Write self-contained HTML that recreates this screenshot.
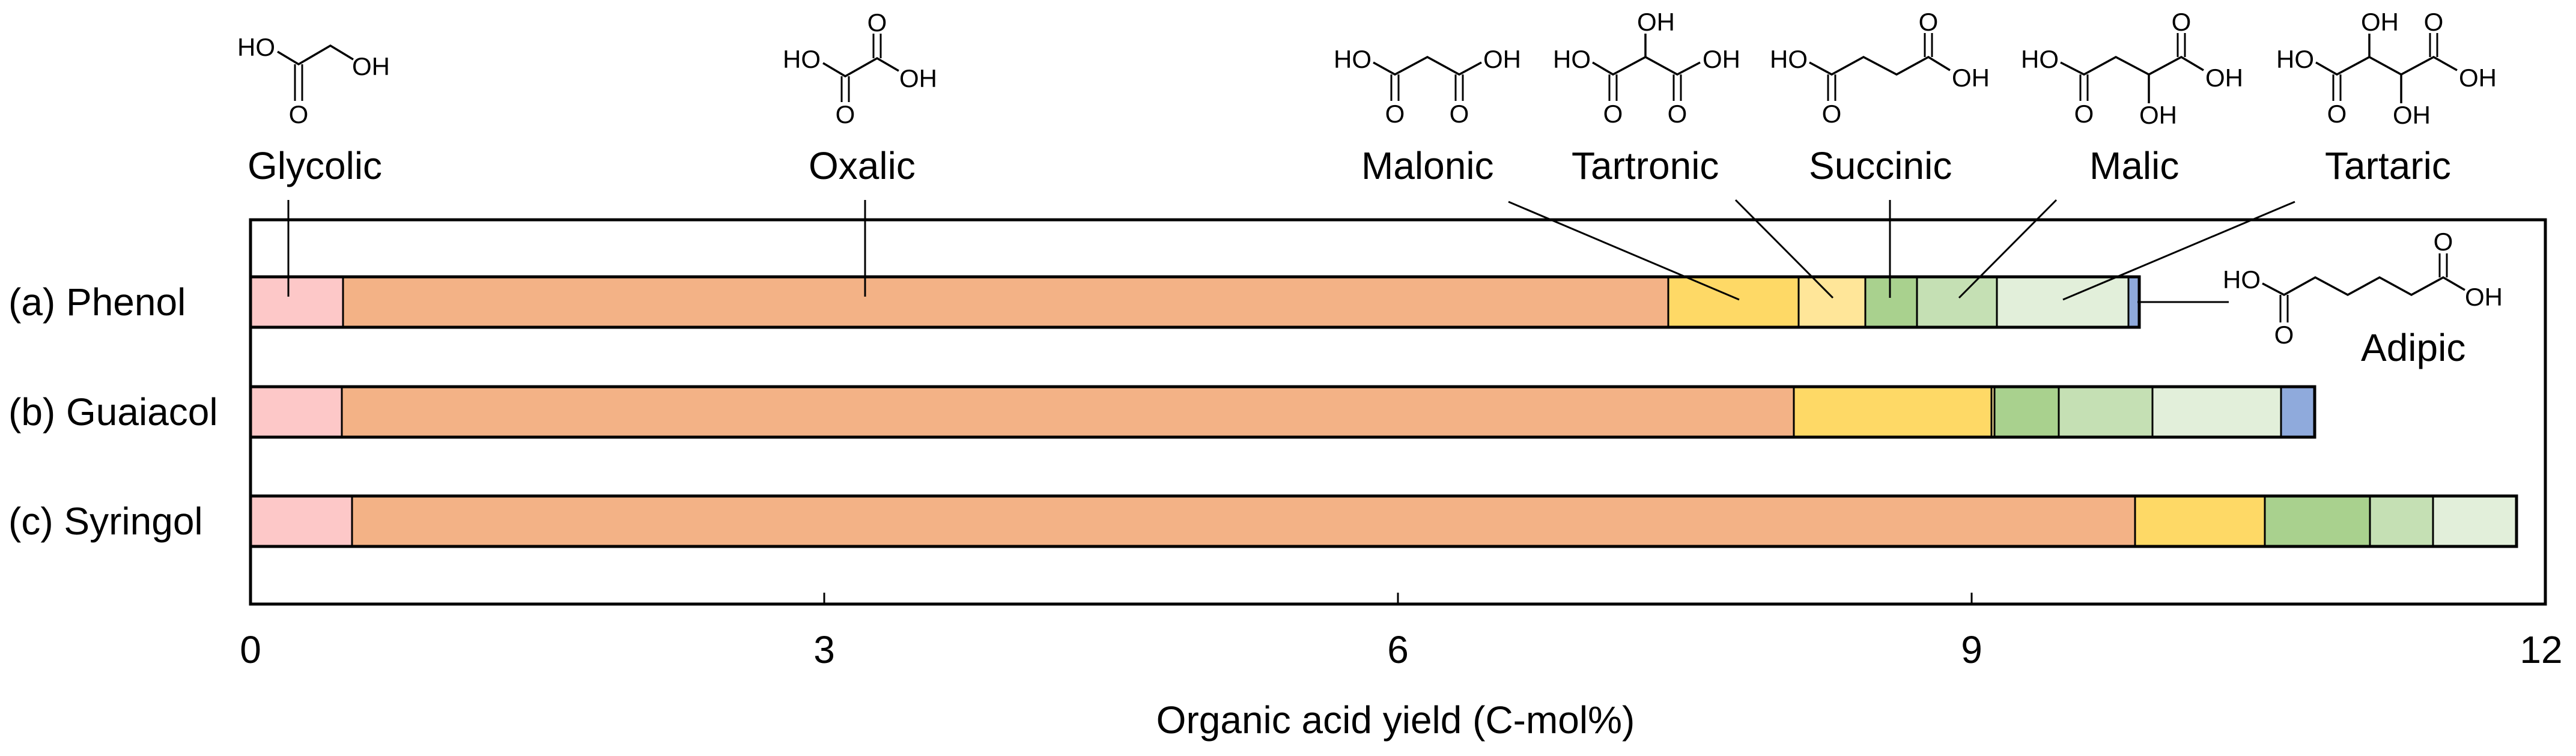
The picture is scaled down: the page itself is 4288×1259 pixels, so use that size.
<!DOCTYPE html>
<html><head><meta charset="utf-8"><style>
html,body{margin:0;padding:0;background:#fff;}
svg{display:block;}
text{font-family:"Liberation Sans",Arial,sans-serif;fill:#000;}
.c{font-size:42px;}
.l{font-size:64px;}
.b{fill:none;stroke:#000;stroke-width:3.5;stroke-linejoin:miter;}
.k{stroke:#000;stroke-width:3;fill:none;}
.s{stroke:#000;stroke-width:3;}
</style></head><body>
<svg width="4288" height="1259" viewBox="0 0 4288 1259" xmlns="http://www.w3.org/2000/svg">
<!-- frame -->
<rect x="417" y="366" width="3820" height="640" fill="none" stroke="#000" stroke-width="5"/>
<!-- ticks -->
<g class="s"><line x1="1372" y1="1006" x2="1372" y2="987"/><line x1="2327" y1="1006" x2="2327" y2="987"/><line x1="3282" y1="1006" x2="3282" y2="987"/></g>

<!-- bar a -->
<g stroke="#000" stroke-width="3">
<rect x="417" y="461" width="154" height="84" fill="#FDC8C8"/>
<rect x="571" y="461" width="2206" height="84" fill="#F3B286"/>
<rect x="2777" y="461" width="217" height="84" fill="#FED966"/>
<rect x="2994" y="461" width="111" height="84" fill="#FFE699"/>
<rect x="3105" y="461" width="86" height="84" fill="#A9D18E"/>
<rect x="3191" y="461" width="133" height="84" fill="#C5E0B4"/>
<rect x="3324" y="461" width="219" height="84" fill="#E2EFDA"/>
<rect x="3543" y="461" width="18" height="84" fill="#8FAADC"/>
</g>
<rect x="417" y="461" width="3144" height="84" fill="none" stroke="#000" stroke-width="5"/>
<!-- bar b -->
<g stroke="#000" stroke-width="3">
<rect x="417" y="644" width="152" height="84" fill="#FDC8C8"/>
<rect x="569" y="644" width="2417" height="84" fill="#F3B286"/>
<rect x="2986" y="644" width="329" height="84" fill="#FED966"/>
<rect x="3315" y="644" width="5" height="84" fill="#FFE699"/>
<rect x="3320" y="644" width="107" height="84" fill="#A9D18E"/>
<rect x="3427" y="644" width="156" height="84" fill="#C5E0B4"/>
<rect x="3583" y="644" width="214" height="84" fill="#E2EFDA"/>
<rect x="3797" y="644" width="56" height="84" fill="#8FAADC"/>
</g>
<rect x="417" y="644" width="3436" height="84" fill="none" stroke="#000" stroke-width="5"/>
<!-- bar c -->
<g stroke="#000" stroke-width="3">
<rect x="417" y="826" width="169" height="84" fill="#FDC8C8"/>
<rect x="586" y="826" width="2968" height="84" fill="#F3B286"/>
<rect x="3554" y="826" width="216" height="84" fill="#FED966"/>
<rect x="3770" y="826" width="175" height="84" fill="#A9D18E"/>
<rect x="3945" y="826" width="105" height="84" fill="#C5E0B4"/>
<rect x="4050" y="826" width="139" height="84" fill="#E2EFDA"/>
</g>
<rect x="417" y="826" width="3772" height="84" fill="none" stroke="#000" stroke-width="5"/>

<!-- leader lines -->
<g class="s">
<line x1="480" y1="333" x2="480" y2="494"/>
<line x1="1440" y1="333" x2="1440" y2="494"/>
<line x1="2511" y1="336" x2="2895" y2="499"/>
<line x1="2889" y1="333" x2="3051" y2="496"/>
<line x1="3146" y1="333" x2="3146" y2="496"/>
<line x1="3423" y1="333" x2="3261" y2="496"/>
<line x1="3820" y1="336" x2="3434" y2="499"/>
<line x1="3558" y1="503" x2="3710" y2="503"/>
</g>

<!-- row labels -->
<text class="l" x="14" y="525">(a) Phenol</text>
<text class="l" x="14" y="708">(b) Guaiacol</text>
<text class="l" x="14" y="890">(c) Syringol</text>
<!-- tick labels -->
<g class="l" text-anchor="middle">
<text x="417" y="1104">0</text><text x="1372" y="1104">3</text><text x="2327" y="1104">6</text><text x="3282" y="1104">9</text><text x="4230" y="1104">12</text>
<text x="2323" y="1221">Organic acid yield (C-mol%)</text>
</g>
<!-- acid labels -->
<g class="l">
<text x="412" y="298">Glycolic</text>
<text x="1346" y="298">Oxalic</text>
<text x="2266" y="298">Malonic</text>
<text x="2616" y="298">Tartronic</text>
<text x="3011" y="298">Succinic</text>
<text x="3478" y="298">Malic</text>
<text x="3870" y="298">Tartaric</text>
<text x="3930" y="601">Adipic</text>
</g>

<!-- Glycolic -->
<text class="c" x="458" y="93" text-anchor="end">HO</text>
<polyline class="b" points="462,86 497,107 550,76 588,99"/>
<line class="k" x1="491" y1="107" x2="491" y2="168"/><line class="k" x1="503" y1="107" x2="503" y2="168"/>
<text class="c" x="497" y="205" text-anchor="middle">O</text>
<text class="c" x="586" y="125">OH</text>

<!-- Oxalic -->
<text class="c" x="1366" y="113" text-anchor="end">HO</text>
<polyline class="b" points="1370,105 1407,127 1460,97 1496,118"/>
<line class="k" x1="1401" y1="127" x2="1401" y2="170"/><line class="k" x1="1413" y1="127" x2="1413" y2="170"/>
<text class="c" x="1407" y="205" text-anchor="middle">O</text>
<line class="k" x1="1454" y1="97" x2="1454" y2="56"/><line class="k" x1="1466" y1="97" x2="1466" y2="56"/>
<text class="c" x="1460" y="52" text-anchor="middle">O</text>
<text class="c" x="1497" y="145">OH</text>

<!-- Malonic -->
<text class="c" x="2283" y="113" text-anchor="end">HO</text>
<polyline class="b" points="2286,104 2322,124 2376,95 2429,124 2466,104"/>
<line class="k" x1="2316" y1="124" x2="2316" y2="168"/><line class="k" x1="2328" y1="124" x2="2328" y2="168"/>
<line class="k" x1="2423" y1="124" x2="2423" y2="168"/><line class="k" x1="2435" y1="124" x2="2435" y2="168"/>
<text class="c" x="2322" y="204" text-anchor="middle">O</text>
<text class="c" x="2429" y="204" text-anchor="middle">O</text>
<text class="c" x="2469" y="113">OH</text>

<!-- Tartronic -->
<text class="c" x="2648" y="113" text-anchor="end">HO</text>
<polyline class="b" points="2651,104 2685,124 2739,95 2792,124 2830,104"/>
<line class="b" x1="2739" y1="95" x2="2739" y2="56"/>
<text class="c" x="2725" y="51">OH</text>
<line class="k" x1="2679" y1="124" x2="2679" y2="168"/><line class="k" x1="2691" y1="124" x2="2691" y2="168"/>
<line class="k" x1="2786" y1="124" x2="2786" y2="168"/><line class="k" x1="2798" y1="124" x2="2798" y2="168"/>
<text class="c" x="2685" y="204" text-anchor="middle">O</text>
<text class="c" x="2792" y="204" text-anchor="middle">O</text>
<text class="c" x="2834" y="113">OH</text>

<!-- Succinic -->
<text class="c" x="3009" y="113" text-anchor="end">HO</text>
<polyline class="b" points="3012,104 3049,124 3102,95 3157,124 3210,95 3246,117"/>
<line class="k" x1="3043" y1="124" x2="3043" y2="168"/><line class="k" x1="3055" y1="124" x2="3055" y2="168"/>
<text class="c" x="3049" y="204" text-anchor="middle">O</text>
<line class="k" x1="3204" y1="95" x2="3204" y2="55"/><line class="k" x1="3216" y1="95" x2="3216" y2="55"/>
<text class="c" x="3210" y="51" text-anchor="middle">O</text>
<text class="c" x="3249" y="144">OH</text>

<!-- Malic -->
<text class="c" x="3427" y="113" text-anchor="end">HO</text>
<polyline class="b" points="3430,104 3469,124 3522,95 3577,124 3631,95 3668,117"/>
<line class="b" x1="3577" y1="124" x2="3577" y2="172"/>
<text class="c" x="3561" y="206">OH</text>
<line class="k" x1="3463" y1="124" x2="3463" y2="168"/><line class="k" x1="3475" y1="124" x2="3475" y2="168"/>
<text class="c" x="3469" y="204" text-anchor="middle">O</text>
<line class="k" x1="3625" y1="95" x2="3625" y2="55"/><line class="k" x1="3637" y1="95" x2="3637" y2="55"/>
<text class="c" x="3631" y="51" text-anchor="middle">O</text>
<text class="c" x="3671" y="144">OH</text>

<!-- Tartaric -->
<text class="c" x="3852" y="113" text-anchor="end">HO</text>
<polyline class="b" points="3855,104 3890,124 3944,95 3997,124 4051,95 4090,117"/>
<line class="b" x1="3944" y1="95" x2="3944" y2="56"/>
<text class="c" x="3930" y="51">OH</text>
<line class="b" x1="3997" y1="124" x2="3997" y2="172"/>
<text class="c" x="3983" y="206">OH</text>
<line class="k" x1="3884" y1="124" x2="3884" y2="168"/><line class="k" x1="3896" y1="124" x2="3896" y2="168"/>
<text class="c" x="3890" y="204" text-anchor="middle">O</text>
<line class="k" x1="4045" y1="95" x2="4045" y2="55"/><line class="k" x1="4057" y1="95" x2="4057" y2="55"/>
<text class="c" x="4051" y="51" text-anchor="middle">O</text>
<text class="c" x="4093" y="144">OH</text>

<!-- Adipic -->
<text class="c" x="3763" y="480" text-anchor="end">HO</text>
<polyline class="b" points="3766,472 3802,491 3854,462 3908,491 3961,462 4014,491 4067,462 4103,483"/>
<line class="k" x1="3796" y1="491" x2="3796" y2="537"/><line class="k" x1="3808" y1="491" x2="3808" y2="537"/>
<text class="c" x="3802" y="572" text-anchor="middle">O</text>
<line class="k" x1="4061" y1="462" x2="4061" y2="422"/><line class="k" x1="4073" y1="462" x2="4073" y2="422"/>
<text class="c" x="4067" y="417" text-anchor="middle">O</text>
<text class="c" x="4103" y="509">OH</text>
</svg>
</body></html>
